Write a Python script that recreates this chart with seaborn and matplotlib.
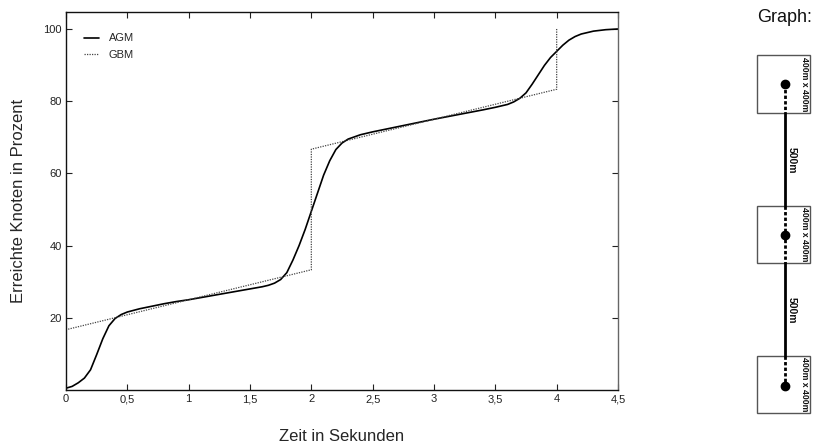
import matplotlib
matplotlib.use("Agg")
import matplotlib.pyplot as plt
from matplotlib.patches import Rectangle
import pandas as pd
import seaborn as sns

# Time axis (seconds) and reached nodes (percent) for both methods
agm_t = [0, 0.05, 0.1, 0.15, 0.2, 0.25, 0.3, 0.35, 0.4, 0.45, 0.5, 0.6, 0.7, 0.8,
         0.9, 1.0, 1.1, 1.2, 1.3, 1.4, 1.5, 1.6, 1.65, 1.7, 1.75, 1.8, 1.85, 1.9,
         1.95, 2.0, 2.05, 2.1, 2.15, 2.2, 2.25, 2.3, 2.4, 2.5, 2.6, 2.8, 3.0, 3.2,
         3.4, 3.5, 3.6, 3.65, 3.7, 3.75, 3.8, 3.85, 3.9, 3.95, 4.0, 4.05, 4.1,
         4.15, 4.2, 4.3, 4.4, 4.5]
agm_pct = [0.5, 1.0, 2.0, 3.3, 5.6, 9.8, 14.2, 17.8, 19.8, 20.9, 21.6, 22.5, 23.2,
           23.9, 24.5, 25.0, 25.6, 26.2, 26.8, 27.4, 28.0, 28.6, 29.0, 29.6, 30.6,
           32.5, 36.0, 40.0, 44.5, 49.5, 54.5, 59.5, 63.5, 66.6, 68.4, 69.5, 70.7,
           71.5, 72.2, 73.6, 75.0, 76.3, 77.6, 78.3, 79.1, 79.8, 80.8, 82.3, 84.7,
           87.3, 89.9, 92.1, 93.8, 95.5, 96.9, 97.9, 98.6, 99.4, 99.8, 100.0]

gbm_t = [0, 0, 2, 2, 4, 4]
gbm_pct = [0, 16.7, 33.3, 66.7, 83.3, 100]

x_ticks = [0, 0.5, 1, 1.5, 2, 2.5, 3, 3.5, 4, 4.5]
x_tick_labels = ["0", "0,5", "1", "1,5", "2", "2,5", "3", "3,5", "4", "4,5"]
y_ticks = [20, 40, 60, 80, 100]

sns.set_style("ticks")
plt.rcParams["font.family"] = ["Liberation Sans", "DejaVu Sans"]

fig = plt.figure(figsize=(8.19, 4.47), dpi=100)
ax = fig.add_axes([66 / 819, 1 - 390 / 447, 552 / 819, 378 / 447])

agm = pd.DataFrame({"t": agm_t, "pct": agm_pct})
gbm = pd.DataFrame({"t": gbm_t, "pct": gbm_pct})

sns.lineplot(data=agm, x="t", y="pct", ax=ax, color="black", lw=1.2,
             estimator=None, sort=False, label="AGM")
sns.lineplot(data=gbm, x="t", y="pct", ax=ax, color="#444444", lw=0.9,
             linestyle=(0, (1, 1)), estimator=None, sort=False, label="GBM")

ax.set_xlim(0, 4.5)
ax.set_ylim(0, 104.7)
ax.set_xticks(x_ticks)
ax.set_xticklabels(x_tick_labels)
ax.set_yticks(y_ticks)
ax.tick_params(direction="in", length=4, width=0.8, labelsize=8, colors="#222222",
               top=True, right=True, pad=3)
for side in ["left", "bottom", "top"]:
    ax.spines[side].set_color("#111111")
    ax.spines[side].set_linewidth(1.0)
ax.spines["right"].set_color("#666666")
ax.spines["right"].set_linewidth(1.0)

ax.set_xlabel("Zeit in Sekunden", fontsize=12)
ax.set_ylabel("Erreichte Knoten in Prozent", fontsize=12)
ax.xaxis.set_label_coords(0.5, -0.104)
ax.yaxis.set_label_coords(-0.072, 0.5)

ax.legend(loc="upper left", frameon=False, fontsize=8, handlelength=1.3,
          handletextpad=0.9, borderaxespad=0.0, labelspacing=0.55,
          bbox_to_anchor=(0.025, 0.955))

# Topology sketch: three 400m x 400m areas linked by 500m connections
dg = fig.add_axes([0, 0, 1, 1])
dg.set_xlim(0, 819)
dg.set_ylim(447, 0)
dg.axis("off")
dg.patch.set_alpha(0)

dg.text(757, 18, "Graph:", fontsize=13, ha="left", va="center", color="#111111")

cx = 785
boxes = [(55, 113, 84), (206, 263, 235), (356, 413, 386)]
for top, bottom, dot in boxes:
    dg.add_patch(Rectangle((757, top), 53, bottom - top, fill=False,
                           edgecolor="#555555", lw=1.0))
    dg.text(805, (top + bottom) / 2, "400m x 400m", rotation=-90, fontsize=6.3,
            fontweight="bold", ha="center", va="center", color="#111111")
    dg.plot([cx], [dot], "o", color="black", ms=6)

dash = dict(color="black", lw=2, linestyle=(0, (1.2, 0.8)))
dg.plot([cx, cx], [84, 113], **dash)
dg.plot([cx, cx], [206, 263], **dash)
dg.plot([cx, cx], [356, 386], **dash)
dg.plot([cx, cx], [113, 206], color="black", lw=2)
dg.plot([cx, cx], [263, 356], color="black", lw=2)
for yc in [160, 310]:
    dg.text(cx + 7, yc, "500m", rotation=-90, fontsize=7.5, fontweight="bold",
            ha="center", va="center", color="#111111")

fig.savefig("out.png", dpi=100)
